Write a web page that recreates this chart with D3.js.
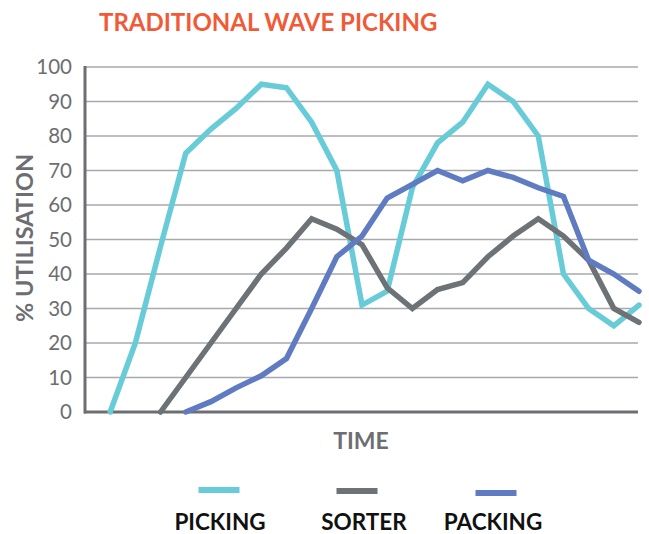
<!DOCTYPE html>
<html><head><meta charset="utf-8">
<script src="https://cdn.jsdelivr.net/npm/d3@7"></script>
<style>body{margin:0;background:#fff}svg{display:block}text{font-family:Lato,"Open Sans",sans-serif}</style>
</head><body>
<svg id="c" width="649" height="534"></svg>
<script>
const yTicks = [0,10,20,30,40,50,60,70,80,90,100];
const picking = [null,0,20,48,75,82,88,95,94,84,70,31,35,65,78,84,95,90,80,40,30,25,31];
const sorter  = [null,null,null,0,10,20,30,40,47.5,56,53,48.5,36,30,35.5,37.5,45,51,56,51,44,30,26];
const packing = [null,null,null,null,0,3,7,10.5,15.5,30,45,51,62,66,70,67,70,68,65,62.5,44,40,35];
const seriesNames = ["PICKING","SORTER","PACKING"];
const colors = ["#68cbd8","#6d7276","#5f7bc1"];

const svg = d3.select("#c");
const x = d3.scaleLinear().domain([0,22]).range([85,639]);
const y = d3.scaleLinear().domain([0,100]).range([412,67]);

svg.append("text").attr("x",99).attr("y",31).attr("fill","#f15a36")
  .attr("font-size",24).attr("font-weight",700).text("TRADITIONAL WAVE PICKING");

// grid
svg.append("g").selectAll("line").data(yTicks.filter(d=>d>0)).join("line")
  .attr("x1",85).attr("x2",638).attr("y1",d=>y(d)).attr("y2",d=>y(d))
  .attr("stroke","#a7a9ac").attr("stroke-width",1.5);

// y axis
const ya = svg.append("g").attr("transform","translate(85,0)")
  .call(d3.axisLeft(y).tickValues(yTicks).tickSize(0).tickPadding(13));
ya.select(".domain").remove();
ya.selectAll("text").attr("font-size",20.5).attr("fill","#6d6e71").attr("font-family","Lato,sans-serif");

svg.append("line").attr("x1",85).attr("x2",85).attr("y1",66).attr("y2",413.5)
  .attr("stroke","#6d6e71").attr("stroke-width",3);
svg.append("line").attr("x1",84).attr("x2",638).attr("y1",412).attr("y2",412)
  .attr("stroke","#6d6e71").attr("stroke-width",3);

// lines
const line = d3.line().defined(d=>d!=null).x((d,i)=>x(i)).y(d=>y(d));
[picking,sorter,packing].forEach((s,k)=>{
  svg.append("path").attr("d",line(s)).attr("fill","none").attr("stroke",colors[k])
    .attr("stroke-width",5.5).attr("stroke-linejoin","miter").attr("stroke-linecap","round");
});

svg.append("text").attr("transform","translate(33,238) rotate(-90)").attr("text-anchor","middle")
  .attr("font-size",23.5).attr("font-weight",700).attr("fill","#6d6e71").text("% UTILISATION");
svg.append("text").attr("x",361).attr("y",449).attr("text-anchor","middle")
  .attr("font-size",23).attr("font-weight",700).attr("fill","#6d6e71").text("TIME");

// legend
const lx = [219,357,496], ly=[490,491,493], tx=[220,364,493];
seriesNames.forEach((n,k)=>{
  svg.append("line").attr("x1",lx[k]-20.5).attr("x2",lx[k]+20.5).attr("y1",ly[k]).attr("y2",ly[k])
    .attr("stroke",colors[k]).attr("stroke-width",6);
  svg.append("text").attr("x",tx[k]).attr("y",529.5).attr("text-anchor","middle")
    .attr("font-size",22.5).attr("font-weight",700).attr("fill","#111").text(n);
});
</script>
</body></html>
